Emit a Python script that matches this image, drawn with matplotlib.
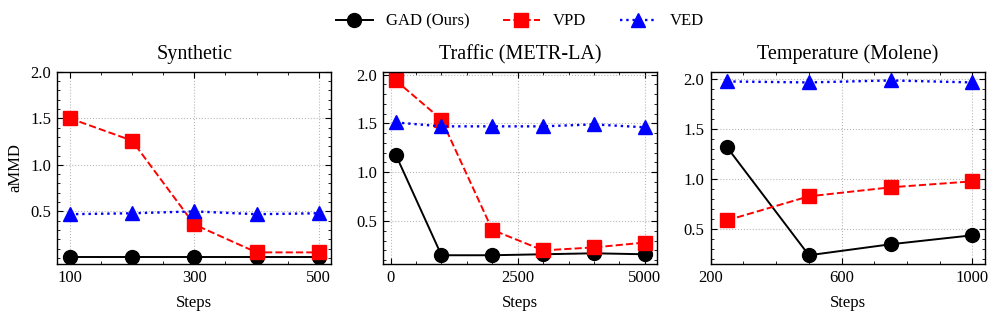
import matplotlib.pyplot as plt
from matplotlib.ticker import AutoMinorLocator

plt.rcParams['font.family'] = ['Liberation Serif', 'DejaVu Serif']
plt.rcParams['mathtext.fontset'] = 'stix'

titles = ["Synthetic", "Traffic (METR-LA)", "Temperature (Molene)"]

# steps per dataset
steps_syn = [100, 200, 300, 400, 500]
steps_traffic = [100, 1000, 2000, 3000, 4000, 5000]
steps_temp = [250, 500, 750, 1000]

# aMMD values
gad_syn = [0.01, 0.01, 0.01, 0.01, 0.01]
vpd_syn = [1.50, 1.26, 0.36, 0.06, 0.06]
ved_syn = [0.47, 0.48, 0.50, 0.47, 0.48]

gad_traffic = [1.18, 0.15, 0.15, 0.16, 0.17, 0.16]
vpd_traffic = [1.94, 1.54, 0.41, 0.20, 0.23, 0.28]
ved_traffic = [1.51, 1.47, 1.47, 1.47, 1.49, 1.46]

gad_temp = [1.32, 0.24, 0.35, 0.44]
vpd_temp = [0.59, 0.83, 0.92, 0.98]
ved_temp = [1.98, 1.97, 1.99, 1.97]

xticks = [[100, 300, 500], [0, 2500, 5000], [200, 600, 1000]]
yticks = [0.5, 1.0, 1.5, 2.0]

data = [
    (steps_syn, gad_syn, vpd_syn, ved_syn),
    (steps_traffic, gad_traffic, vpd_traffic, ved_traffic),
    (steps_temp, gad_temp, vpd_temp, ved_temp),
]

fig = plt.figure(figsize=(9.96, 3.16), dpi=100)
lefts = [0.0575, 0.3848, 0.7136]
axes = []
for i in range(3):
    ax = fig.add_axes([lefts[i], 0.1646, 0.2751, 0.6085])
    steps, gad, vpd, ved = data[i]
    ax.plot(steps, gad, color='black', linestyle='-', marker='o', markersize=10, lw=1.4, label='GAD (Ours)')
    ax.plot(steps, vpd, color='red', linestyle='--', marker='s', markersize=10, lw=1.4, label='VPD')
    ax.plot(steps, ved, color='blue', linestyle=':', marker='^', markersize=10, lw=1.7, label='VED')
    ax.set_xticks(xticks[i])
    ax.set_yticks(yticks)
    ax.xaxis.set_minor_locator(AutoMinorLocator())
    ax.yaxis.set_minor_locator(AutoMinorLocator())
    ax.tick_params(which='both', direction='in', top=True, right=True, labelsize=12)
    ax.tick_params(which='major', length=4, width=0.8, pad=4.5)
    ax.tick_params(which='minor', length=2, width=0.6)
    ax.grid(True, which='major', linestyle=':', color='#b8b8b8', lw=0.8)
    ax.set_title(titles[i], fontsize=14.5, pad=9)
    ax.set_xlabel("Steps", fontsize=12, labelpad=6)
    for s in ax.spines.values():
        s.set_linewidth(1.0)
    axes.append(ax)

axes[0].set_ylabel("aMMD", fontsize=12, labelpad=5)

handles, labels = axes[0].get_legend_handles_labels()
fig.legend(handles, labels, loc='upper center', bbox_to_anchor=(0.522, 1.005), ncol=3,
           frameon=False, fontsize=12, columnspacing=2.0, handlelength=2.2)

fig.savefig("out.png", dpi=100)
